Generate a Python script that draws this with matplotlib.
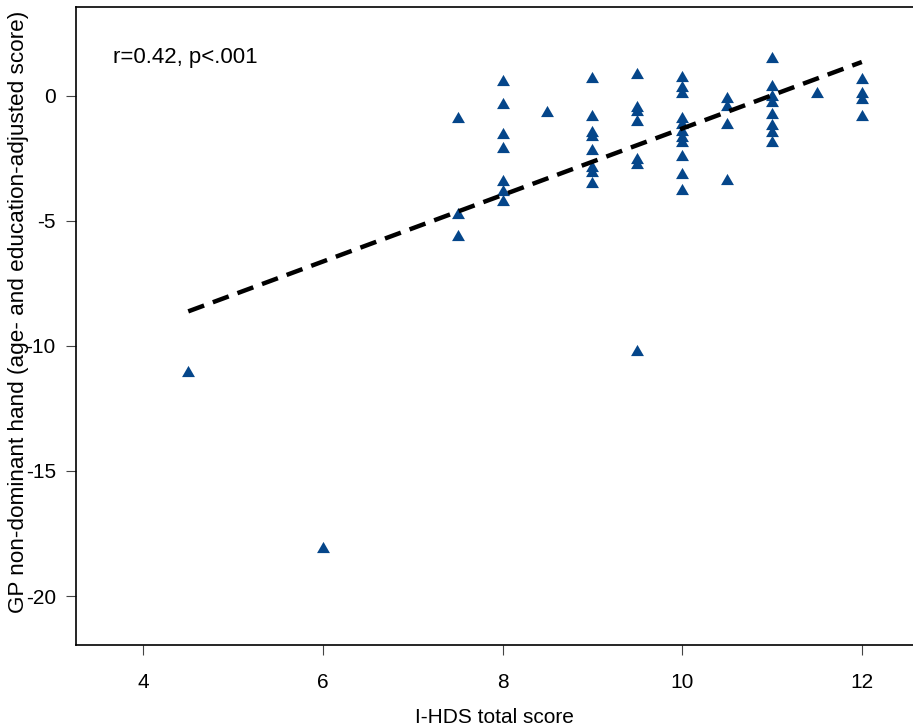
import matplotlib
matplotlib.use("Agg")
import matplotlib.pyplot as plt
import matplotlib.transforms as mtransforms
import numpy as np

# I-HDS total score (x) and GP non-dominant hand adjusted score (y)
hds = ([4.5] + [6.0] + [7.5] * 3 + [8.0] * 7 + [8.5] + [9.0] * 8 + [9.5] * 7
       + [10.0] * 11 + [10.5] * 4 + [11.0] * 8 + [11.5] + [12.0] * 4)
gp = ([-11.0]
      + [-18.05]
      + [-0.86, -4.68, -5.56]
      + [0.62, -0.28, -1.48, -2.04, -3.36, -3.76, -4.18]
      + [-0.62]
      + [0.74, -0.78, -1.39, -1.55, -2.12, -2.8, -3.0, -3.43]
      + [0.9, -0.42, -0.55, -0.97, -2.5, -2.67, -10.18]
      + [0.78, 0.4, 0.15, -0.84, -1.1, -1.35, -1.6, -1.8, -2.36, -3.09, -3.73]
      + [-0.04, -0.37, -1.07, -3.33]
      + [1.56, 0.43, 0.05, -0.22, -0.69, -1.13, -1.41, -1.79]
      + [0.16]
      + [0.73, 0.16, -0.08, -0.75])

# regression line parameters
fit_slope = 1.33
fit_intercept = -14.6
fit_range = [4.5, 12.0]

x_ticks = [4, 6, 8, 10, 12]
y_ticks = [0, -5, -10, -15, -20]
annotation = "r=0.42, p<.001"
x_label = "I-HDS total score"
y_label = "GP non-dominant hand (age- and education-adjusted score)"

plt.rcParams['font.family'] = ['Liberation Sans', 'DejaVu Sans']

W, H = 913, 727
fig = plt.figure(figsize=(W / 100, H / 100), dpi=100)
ax = fig.add_axes([76 / W, (H - 645) / H, (W - 76) / W, (645 - 7) / H])

tri = [(-1, -0.866), (1, -0.866), (0, 0.866), (-1, -0.866)]
ax.plot(hds, gp, linestyle='none', marker=tri, markersize=9.3,
        color='#05468A', markeredgewidth=0, zorder=3)

fx = np.array(fit_range)
ax.plot(fx, fit_intercept + fit_slope * fx, color='black', lw=3.2,
        linestyle=(0, (3.8, 2.1)), dash_capstyle='butt', zorder=4)

ax.set_xlim(3.25, 12.57)
ax.set_ylim(-21.96, 3.56)
ax.set_xticks(x_ticks)
ax.set_xticklabels([str(t) for t in x_ticks])
ax.set_yticks(y_ticks)
ax.set_yticklabels([str(t) for t in y_ticks])

for s in ['top', 'left', 'bottom']:
    ax.spines[s].set_linewidth(1.2)
ax.spines['right'].set_visible(False)

ax.tick_params(axis='both', direction='out', length=7.5, width=0.8,
               color='#444444', labelsize=15, labelcolor='black')
ax.tick_params(axis='y', pad=7)
ax.tick_params(axis='x', pad=13)

ax.set_xlabel(x_label, fontsize=15, labelpad=11)
ax.set_ylabel(y_label, fontsize=16.2, labelpad=0)
ax.yaxis.set_label_coords(-47 / (W - 76), 0.522)

pix_from_top = mtransforms.Affine2D().scale(1, -1).translate(0, H)
ax.text(113, 58, annotation, transform=pix_from_top, fontsize=16,
        va='center', ha='left')

fig.savefig("out.png", dpi=100)
